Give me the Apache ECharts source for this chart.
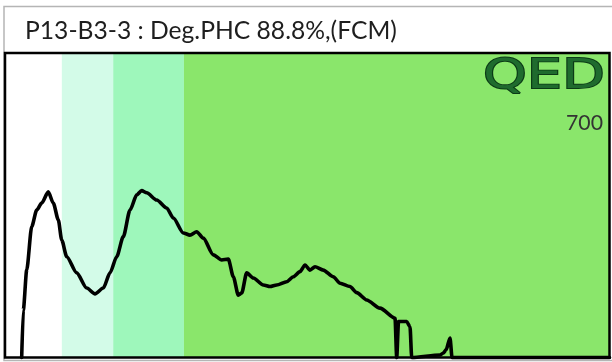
<!DOCTYPE html>
<html>
<head>
<meta charset="utf-8">
<script src="https://cdn.jsdelivr.net/npm/echarts@6/dist/echarts.min.js"></script>
<style>
html,body{margin:0;padding:0;background:#fff;}
#chart{width:612px;height:362px;}
</style>
</head>
<body>
<div id="chart"></div>
<script>
// ---- data ----
const titleText = 'P13-B3-3 : Deg.PHC 88.8%,(FCM)';
const logoText = 'QED';
const scaleText = '700';
const bandEdges = [0, 9.4, 17.9, 29.6, 100];
const bandColors = ['#ffffff', '#d3fbe8', '#9ef7bb', '#8ae66b'];
const xValues = [2.76, 3.03, 3.59, 4.42, 5.24, 6.07, 7.16, 7.99, 8.82, 9.38, 10.21, 11.86, 13.52, 14.89, 16.26, 17.37, 18.48, 19.57, 20.68, 21.79, 22.61, 23.44, 25.10, 26.75, 27.84, 29.50, 30.60, 31.71, 32.80, 34.46, 35.85, 36.94, 37.77, 38.59, 39.16, 39.98, 41.08, 42.73, 43.84, 44.95, 46.60, 47.69, 48.80, 49.63, 50.45, 51.28, 52.65, 54.31, 55.42, 57.07, 58.18, 59.83, 62.03, 64.52, 64.80, 65.10, 66.45, 67.00, 67.28, 71.96, 72.51, 72.96, 73.62, 73.95, 100];
const yValues = [0, 15.6, 28.7, 43.0, 48.4, 50.7, 54.4, 50.7, 45.2, 38.6, 33.1, 27.8, 22.8, 20.9, 22.8, 27.8, 33.1, 39.7, 48.4, 53.4, 54.8, 54.1, 51.7, 49.1, 45.8, 40.9, 40.2, 41.3, 39.2, 33.7, 32.0, 32.3, 26.5, 20.5, 21.2, 27.8, 26.1, 23.8, 23.3, 23.8, 24.9, 26.5, 28.2, 30.4, 28.7, 29.8, 28.7, 26.5, 24.4, 23.3, 21.3, 18.9, 16.2, 12.9, 0, 11.8, 11.8, 10.1, 0, 0.8, 1.5, 2.5, 6.4, 0, 0];

// ---- layout ----
const G = {left: 5, top: 53, width: 604.5, height: 304.5};

function measure(text, font) {
  const c = document.createElement('canvas').getContext('2d');
  c.font = font;
  return c.measureText(text).width;
}
const titleFamily = 'Lato';
const titleSize = 100 * 372 / measure(titleText, '100px ' + titleFamily);
const numSize = 100 * 37 / measure(scaleText, '100px ' + titleFamily);
const logoFont = '41px "DejaVu Sans"';
const logoScaleX = 122 / measure(logoText, logoFont);

const lineData = xValues.map((x, i) => [x, yValues[i]]);
const bandData = [];
for (let i = 0; i < bandColors.length; i++) {
  bandData.push([{xAxis: bandEdges[i], itemStyle: {color: bandColors[i]}}, {xAxis: bandEdges[i + 1]}]);
}

const chart = echarts.init(document.getElementById('chart'), null, {renderer: 'canvas'});
chart.setOption({
  animation: false,
  backgroundColor: '#ffffff',
  grid: {left: G.left, top: G.top, width: G.width, height: G.height, show: false},
  xAxis: {type: 'value', min: 0, max: 100, show: false},
  yAxis: {type: 'value', min: 0, max: 100, show: false},
  series: [
    {
      type: 'line', data: [], z: 1, silent: true,
      markArea: {silent: true, itemStyle: {opacity: 1, borderWidth: 0}, data: bandData}
    },
    {
      type: 'line', data: lineData, z: 5, showSymbol: false, symbol: 'none',
      smooth: 0.25, smoothMonotone: 'x',
      lineStyle: {color: '#000000', width: 3.6, join: 'round', cap: 'round'}, clip: false
    }
  ],
  graphic: [
    {type: 'rect', z: 0, shape: {x: 4, y: 6.5, width: 620, height: 354},
     style: {fill: 'none', stroke: '#b5b5b5', lineWidth: 1.5}},
    {type: 'text', z: 100, x: 25, y: 31,
     style: {text: titleText, font: titleSize.toFixed(2) + 'px ' + titleFamily, fill: '#1e1e1e', textAlign: 'left', textVerticalAlign: 'middle', verticalAlign: 'middle'}},
    {type: 'rect', z: 100, shape: {x: G.left, y: G.top, width: G.width, height: G.height},
     style: {fill: 'none', stroke: '#000000', lineWidth: 2.5}},
    {type: 'text', z: 100, x: 483, y: 77, scaleX: logoScaleX, scaleY: 1,
     style: {text: logoText, font: logoFont, fill: '#1f6b2e', stroke: '#0b3a16', lineWidth: 1.8, textAlign: 'left', verticalAlign: 'middle', textVerticalAlign: 'middle'}},
    {type: 'text', z: 100, x: 603, y: 123,
     style: {text: scaleText, font: numSize.toFixed(2) + 'px ' + titleFamily, fill: '#333333', textAlign: 'right', verticalAlign: 'middle', textVerticalAlign: 'middle'}}
  ]
});
</script>
</body>
</html>
